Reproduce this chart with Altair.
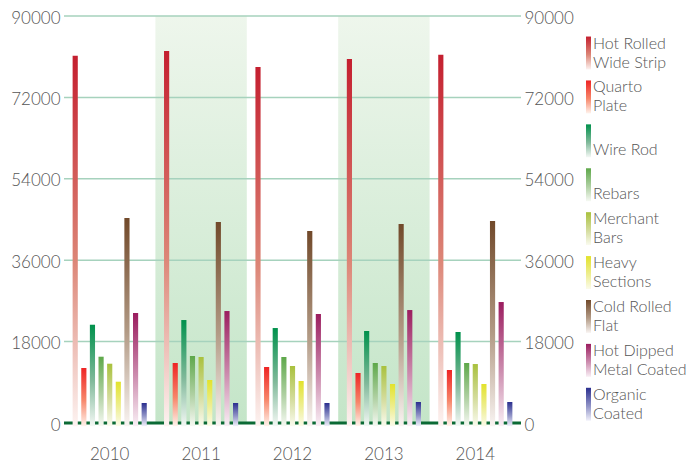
import altair as alt
import pandas as pd

years = ["2010", "2011", "2012", "2013", "2014"]
series = ["Hot Rolled Wide Strip", "Quarto Plate", "Wire Rod", "Rebars", "Merchant Bars",
          "Heavy Sections", "Cold Rolled Flat", "Hot Dipped Metal Coated", "Organic Coated"]
legend_labels = ["Hot Rolled\nWide Strip", "Quarto\nPlate", "\nWire Rod", "\nRebars", "Merchant\nBars",
                 "Heavy\nSections", "Cold Rolled\nFlat", "Hot Dipped\nMetal Coated", "Organic\nCoated"]
values = {
    "Hot Rolled Wide Strip":   [81200, 82250, 78700, 80480, 81430],
    "Quarto Plate":            [12160, 13270, 12380, 11060, 11720],
    "Wire Rod":                [21730, 22770, 21000, 20340, 20120],
    "Rebars":                  [14660, 14810, 14590, 13270, 13270],
    "Merchant Bars":           [13110, 14590, 12600, 12600, 13040],
    "Heavy Sections":          [9130, 9510, 9290, 8620, 8620],
    "Cold Rolled Flat":        [45330, 44440, 42450, 44000, 44660],
    "Hot Dipped Metal Coated": [24320, 24760, 24100, 24980, 26750],
    "Organic Coated":          [4420, 4420, 4420, 4640, 4640],
}
shaded_years = ["2011", "2013"]
y_ticks = [0, 18000, 36000, 54000, 72000, 90000]

gradients = {
    "Hot Rolled Wide Strip":   ["#c41f2f", "#dc8576", "#fdf3f1"],
    "Quarto Plate":            ["#ee2424", "#f7866a", "#fff3ec"],
    "Wire Rod":                ["#00914c", "#80b99a", "#f4f8f5"],
    "Rebars":                  ["#5ea84a", "#afd0a2", "#f6f9f3"],
    "Merchant Bars":           ["#a9c13d", "#d4dc9c", "#fafbef"],
    "Heavy Sections":          ["#e2e22b", "#eeee90", "#fbfbea"],
    "Cold Rolled Flat":        ["#71492a", "#b39b86", "#f9f4f2"],
    "Hot Dipped Metal Coated": ["#9b1d5f", "#cc8cae", "#f9eff5"],
    "Organic Coated":          ["#2b2f8f", "#8f92c6", "#f1f1fa"],
}

FONT = "Lato"
TXT = "#555555"

rows = []
for s in series:
    for y, v in zip(years, values[s]):
        rows.append({"year": y, "series": s, "value": v})
df = pd.DataFrame(rows)
bg = pd.DataFrame({"year": shaded_years, "top": [y_ticks[-1]] * len(shaded_years)})
grid = pd.DataFrame({"v": y_ticks})

def grad(cols):
    return alt.Gradient(gradient="linear", x1=0, x2=0, y1=0, y2=1,
                        stops=[alt.GradientStop(color=cols[0], offset=0),
                               alt.GradientStop(color=cols[1], offset=0.55),
                               alt.GradientStop(color=cols[2], offset=1)])

ydom = [0, 90000]
xenc = alt.X("year:N", sort=years, scale=alt.Scale(domain=years, paddingInner=0, paddingOuter=0),
             axis=alt.Axis(title=None, ticks=False, domain=False, labelPadding=23, labelAngle=0,
                           labelFontSize=17, labelColor=TXT, labelFont=FONT, labelFontWeight=300))

background = alt.Chart(bg).mark_bar(
    color=alt.Gradient(gradient="linear", x1=0, x2=0, y1=0, y2=1,
                       stops=[alt.GradientStop(color="#eef6ec", offset=0),
                              alt.GradientStop(color="#c4e5c8", offset=1)])
).encode(
    x=xenc,
    y=alt.Y("top:Q", scale=alt.Scale(domain=ydom, nice=False),
            axis=alt.Axis(title=None, values=y_ticks, grid=False, ticks=False, domain=False,
                          format="d", labelPadding=4, labelOffset=2, labelFontSize=17,
                          labelColor=TXT, labelFont=FONT, labelFontWeight=300)),
    y2=alt.datum(0),
)

grid_layer = alt.Chart(grid).mark_rule(color="#a6d2bd", strokeWidth=1.5).encode(
    y=alt.Y("v:Q", scale=alt.Scale(domain=ydom, nice=False),
            axis=alt.Axis(orient="right", title=None, values=y_ticks, grid=False, ticks=False,
                          domain=False, format="d", labelPadding=3, labelOffset=2,
                          labelFontSize=17, labelColor=TXT, labelFont=FONT,
                          labelFontWeight=300)),
)

zero_layer = alt.Chart(pd.DataFrame({"v": [0]})).mark_rule(color="#0b6a35", strokeWidth=3).encode(
    y=alt.Y("v:Q", scale=alt.Scale(domain=ydom, nice=False), axis=None),
)

bar_layers = []
for s in series:
    bar_layers.append(
        alt.Chart(df).transform_filter(alt.datum.series == s).mark_bar(color=grad(gradients[s])).encode(
            x=xenc,
            xOffset=alt.XOffset("series:N", scale=alt.Scale(domain=series, paddingInner=0.4,
                                                            paddingOuter=1)),
            y=alt.Y("value:Q", scale=alt.Scale(domain=ydom, nice=False), axis=None),
            y2=alt.datum(-700),
        )
    )

main = alt.layer(background, grid_layer, zero_layer, *bar_layers).resolve_scale(
    y="independent").properties(width=457, height=407)

leg = pd.DataFrame({"series": series, "label": legend_labels})
leg_y = alt.Scale(domain=series, paddingInner=0.25, paddingOuter=0.26, align=0.9)
leg_layers = []
for s in series:
    leg_layers.append(
        alt.Chart(leg).transform_filter(alt.datum.series == s).mark_bar(color=grad(gradients[s])).encode(
            x=alt.value(0), x2=alt.value(5),
            y=alt.Y("series:N", scale=leg_y, axis=None),
        )
    )
leg_text = alt.Chart(leg).mark_text(align="left", baseline="top", lineBreak="\n", lineHeight=19,
                                    fontSize=16, font=FONT, fontWeight=300, color=TXT, dy=-1).encode(
    x=alt.value(7),
    y=alt.Y("series:N", scale=leg_y, axis=None, bandPosition=0),
    text="label:N",
)
legend = alt.layer(*leg_layers, leg_text).properties(width=100, height=407)

chart = alt.hconcat(main, legend, spacing=12).configure_view(stroke=None).properties(
    padding={"left": 2, "top": 1, "right": 0, "bottom": 0})
chart.save("out.html", embed_options={"renderer": "svg", "actions": False})
